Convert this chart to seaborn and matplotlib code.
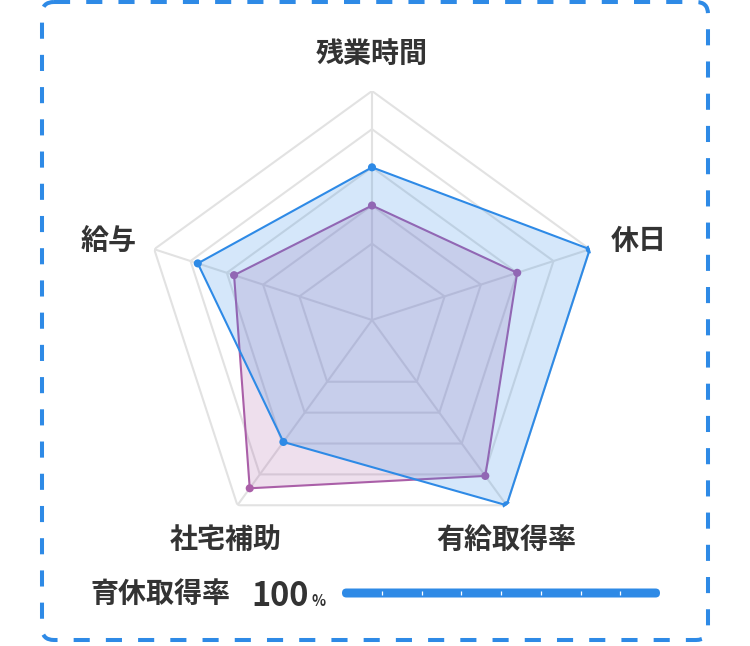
import numpy as np
import pandas as pd
import matplotlib
matplotlib.use("Agg")
import matplotlib.pyplot as plt
from matplotlib.patches import FancyBboxPatch
import seaborn as sns

# ---- data ----
categories = ["残業時間", "休日", "有給取得率", "社宅補助", "給与"]
series_blue = [4.0, 6.0, 6.0, 3.95, 4.8]
series_purple = [3.0, 4.0, 5.05, 5.45, 3.8]
grid_levels = [2, 3, 4, 5, 6]
scale_max = 6
bar_label = "育休取得率"
bar_value = 100
bar_ticks = 8

sns.set_theme(style="white")
plt.rcParams["font.family"] = ["Noto Sans CJK JP", "DejaVu Sans"]

BLUE = "#2e8ae6"
PURPLE = "#aa5fa8"
GRID = "#e2e2e2"
TEXT = "#333333"

W, H = 750, 646
fig = plt.figure(figsize=(W / 100, H / 100), dpi=100)
fig.patch.set_facecolor("white")

# overlay axes in pixel coordinates
bg = fig.add_axes([0, 0, 1, 1])
bg.set_xlim(0, W)
bg.set_ylim(H, 0)
bg.axis("off")

border = FancyBboxPatch((42, 2), 666, 638,
                        boxstyle="round,pad=0,rounding_size=12",
                        fill=False, edgecolor=BLUE, linewidth=2.9,
                        linestyle=(0, (4.0, 4.0)))
bg.add_patch(border)

# ---- radar ----
cx, cy, R = 372, 320, 229
ax = fig.add_axes([(cx - R) / W, (H - cy - R) / H, 2 * R / W, 2 * R / H],
                  projection="polar")
ax.set_theta_offset(np.pi / 2)
ax.set_theta_direction(-1)
ax.set_ylim(0, scale_max)
ax.axis("off")

n = len(categories)
angles = np.linspace(0, 2 * np.pi, n, endpoint=False)
ang_c = np.append(angles, angles[0])

for lv in grid_levels:
    ax.plot(ang_c, [lv] * (n + 1), color=GRID, lw=1.5, zorder=1)
for a in angles:
    ax.plot([a, a], [0, scale_max], color=GRID, lw=1.5, zorder=1)

def draw_series(vals, color, z):
    v = np.append(vals, vals[0])
    df = pd.DataFrame({"theta": ang_c, "r": v})
    ax.fill(ang_c, v, color=color, alpha=0.2, lw=0, zorder=z)
    sns.lineplot(data=df, x="theta", y="r", sort=False, ax=ax,
                 color=color, lw=1.5, zorder=z + 0.1, estimator=None)
    sns.scatterplot(x=angles, y=vals, ax=ax, color=color, s=34,
                    edgecolor="none", zorder=z + 0.2, legend=False)

draw_series(series_purple, PURPLE, 2)
draw_series(series_blue, BLUE, 3)
ax.set_ylim(0, scale_max)
ax.set_xlabel("")
ax.set_ylabel("")

offsets = [(0, 37), (49, 8), (0, -35), (-12, -35), (-46, 7)]
for a, lab, off in zip(angles, categories, offsets):
    ax.annotate(lab, xy=(a, scale_max), xytext=off, textcoords="offset pixels",
                ha="center", va="center", fontsize=20.2, fontweight="bold",
                color=TEXT, annotation_clip=False)

# ---- bottom progress row ----
bg.text(90, 594, bar_label, ha="left", va="center", fontsize=20.2,
        fontweight="bold", color=TEXT)
t100 = bg.text(251, 606, f"{bar_value}", ha="left", va="baseline", fontsize=23.5,
               fontweight="bold", color=TEXT)
bg.text(311, 606, "%", ha="left", va="baseline", fontsize=10.5,
        fontweight="bold", color=TEXT)

bx0, bx1, by, bh = 342, 660, 593, 9
bw = (bx1 - bx0) * bar_value / 100
bg.add_patch(FancyBboxPatch((bx0, by - bh / 2), bw, bh,
                            boxstyle=f"round,pad=0,rounding_size={bh/2}",
                            facecolor=BLUE, edgecolor="none"))
for k in range(1, bar_ticks):
    x = bx0 + (bx1 - bx0) * k / bar_ticks
    bg.plot([x, x], [by - 2.2, by + 2.2], color="white", lw=0.9,
            solid_capstyle="butt")

fig.savefig("out.png", dpi=100, facecolor="white")
